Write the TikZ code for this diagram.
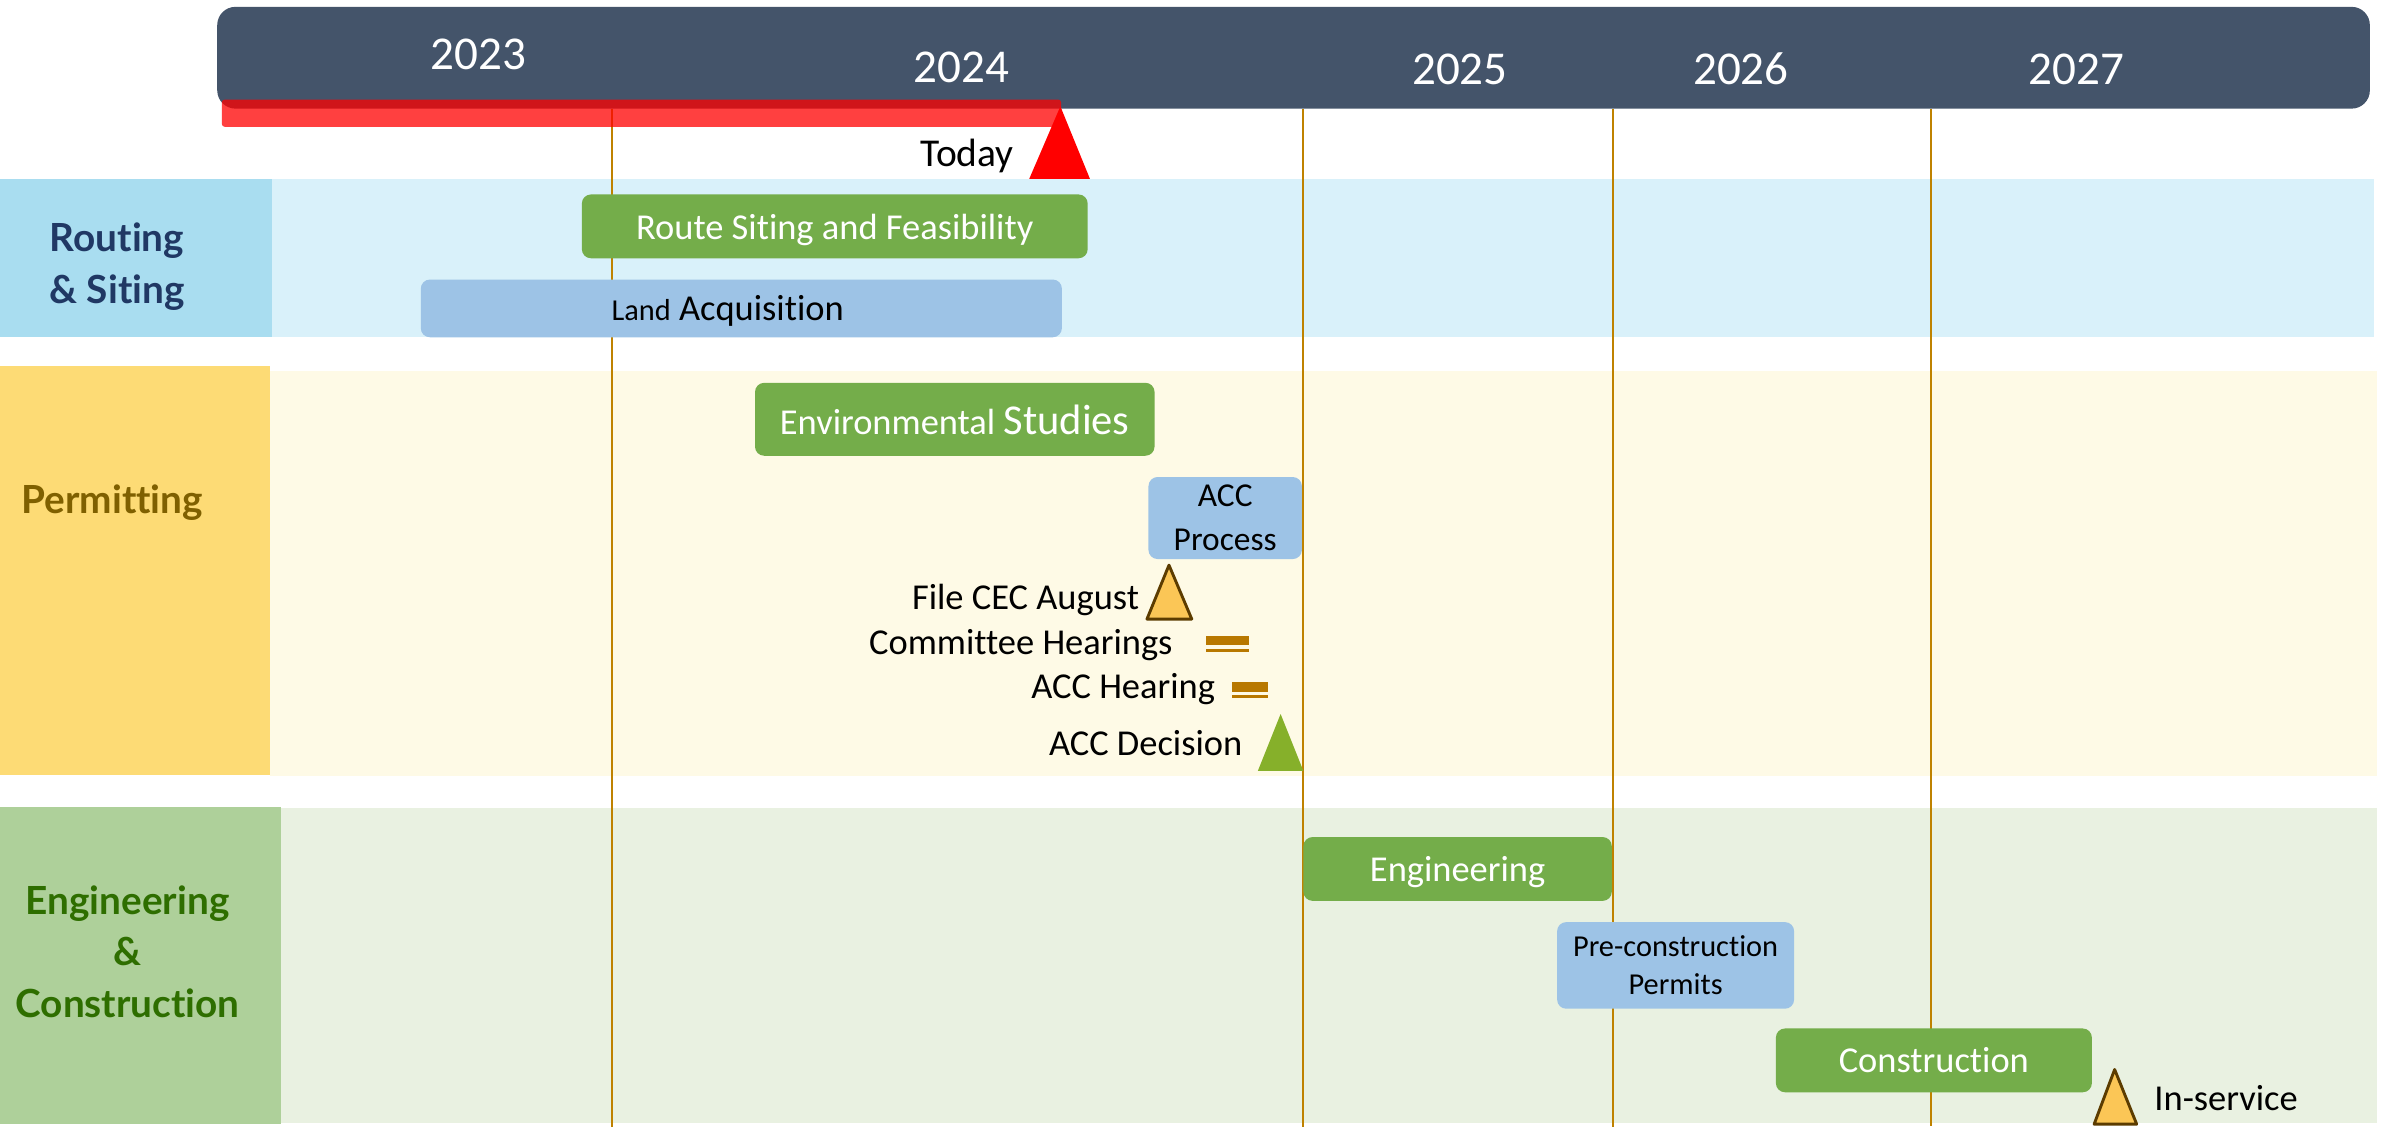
\documentclass[tikz,border=0pt]{standalone}
\usepackage{fontspec}
\setmainfont{Carlito}[Ligatures=NoCommon]
\newfontfamily\lblfont{Lato}[Ligatures=NoCommon]
\definecolor{hdr}{HTML}{44546A}
\definecolor{vline}{HTML}{BF8200}
\definecolor{barG}{HTML}{74AD4A}
\definecolor{barB}{HTML}{9DC3E6}
\definecolor{rsLbl}{HTML}{A9DDF0}
\definecolor{rsBand}{HTML}{D9F1FA}
\definecolor{pmLbl}{HTML}{FDDB75}
\definecolor{pmBand}{HTML}{FEFAE6}
\definecolor{ecLbl}{HTML}{AED09A}
\definecolor{ecBand}{HTML}{E9F1E1}
\definecolor{rsTxt}{HTML}{203864}
\definecolor{pmTxt}{HTML}{7F6000}
\definecolor{ecTxt}{HTML}{2E6E00}
\definecolor{msFill}{HTML}{FBC656}
\definecolor{msLine}{HTML}{5C3C00}
\definecolor{hearC}{HTML}{B87800}
\definecolor{decC}{HTML}{86B02A}
\tikzset{
  bar/.style={rounded corners=6pt, inner sep=0pt, align=center, font=\fontsize{24}{28}\selectfont},
  gbar/.style={bar, fill=barG, text=white, text depth=0pt},
  bbar/.style={bar, fill=barB, text=black},
  mstxt/.style={font=\fontsize{24}{28}\selectfont, inner sep=0pt, text=black},
  yr/.style={text=white, font=\fontsize{31}{36}\selectfont, inner sep=0pt},
  lanelbl/.style={font=\lblfont\bfseries\fontsize{25.5}{34}\selectfont, inner sep=0pt, align=center},
  yline/.style={draw=vline, line width=1.3pt},
  mstri/.style={fill=msFill, draw=msLine, line width=1.9pt, line join=round},
  hear/.style={fill=hearC}
}
\begin{document}
\begin{tikzpicture}[x=1pt,y=-1pt]
\useasboundingbox (0,0) rectangle (1568,745);
% lane backgrounds
\fill[rsLbl] (0,118) rectangle (179,222);
\fill[rsBand] (179,118) rectangle (1563,222);
\fill[pmLbl] (0,241) rectangle (178,510);
\fill[pmBand] (178,244) rectangle (1565,511);
\fill[ecLbl] (0,531) rectangle (185,740);
\fill[ecBand] (185,532) rectangle (1565,739);
% lane labels
\node[lanelbl, text=rsTxt] (lblrs) at (77,175.5) {Routing\\\& Siting};
\node[lanelbl, text=pmTxt, anchor=base west] (lblpm) at (14,338) {Permitting};
\node[lanelbl, text=ecTxt] (lblec) at (84,626.5) {Engineering\\\&\\Construction};
% header
\fill[hdr, rounded corners=12pt] (143,4.5) rectangle (1560,71.5);
% year lines
\draw[yline] (403,71.5) -- (403,742);
\draw[yline] (858,71.5) -- (858,742);
\draw[yline] (1062,71.5) -- (1062,742);
\draw[yline] (1271,71.5) -- (1271,741);
% today bar
\fill[red, opacity=0.75, rounded corners=2pt] (146,65.5) rectangle (698.5,83.5);
\fill[red] (698,70) -- (717.5,117.8) -- (677.5,117.8) -- cycle;
\node[mstxt, anchor=base east, font=\fontsize{26}{30}\selectfont] (today) at (667.5,109.7) {Today};
% years
\node[yr, anchor=base] (y2023) at (315,46) {2023};
\node[yr, anchor=base] (y2024) at (633,54.4) {2024};
\node[yr, anchor=base] (y2025) at (961,55.5) {2025};
\node[yr, anchor=base] (y2026) at (1146,55.5) {2026};
\node[yr, anchor=base] (y2027) at (1367,55.5) {2027};
% bars
\node[gbar, minimum width=333pt, minimum height=42pt] (route) at (549.5,149) {Route Siting and Feasibility};
\node[bbar, text depth=0pt, minimum width=422pt, minimum height=38pt] (land) at (488,203) {\hspace*{-18pt}{\fontsize{20}{24}\selectfont Land} Acquisition};
\node[gbar, minimum width=263pt, minimum height=48pt] (env) at (628.5,276) {Environmental {\fontsize{28}{32}\selectfont Studies}};
\node[bbar, minimum width=101pt, minimum height=54pt, font=\fontsize{22}{29}\selectfont] (acc) at (806.5,341) {ACC\\Process};
\node[gbar, minimum width=203pt, minimum height=42pt] (eng) at (959.5,572) {Engineering};
\node[bbar, minimum width=156pt, minimum height=57pt, font=\fontsize{20}{25}\selectfont] (pre) at (1103,635.5) {Pre-construction\\Permits};
\node[gbar, minimum width=208pt, minimum height=42pt] (cons) at (1273,698) {Construction};
% milestones
\path[mstri] (769.5,372) -- (784.5,407.5) -- (755,407.5) -- cycle;
\node[mstxt, anchor=base east] (filecec) at (750,401.5) {File CEC August};
\fill[hear] (794,418.5) rectangle (822,424.6);
\fill[hear] (794,427.2) rectangle (822,429.4);
\node[mstxt, anchor=base east] (comm) at (772,430.8) {Committee Hearings};
\fill[hear] (811,448.8) rectangle (835,455.3);
\fill[hear] (811,457.3) rectangle (835,459.7);
\node[mstxt, anchor=base east] (acchear) at (800,459.7) {ACC Hearing};
\fill[decC] (843,470) -- (858,507.5) -- (828,507.5) -- cycle;
\node[mstxt, anchor=base east] (accdec) at (818,497) {ACC Decision};
\path[mstri] (1392,704) -- (1406.5,740) -- (1378.5,740) -- cycle;
\node[mstxt, anchor=base west] (insvc) at (1418,731) {In-service};
\end{tikzpicture}
\end{document}
